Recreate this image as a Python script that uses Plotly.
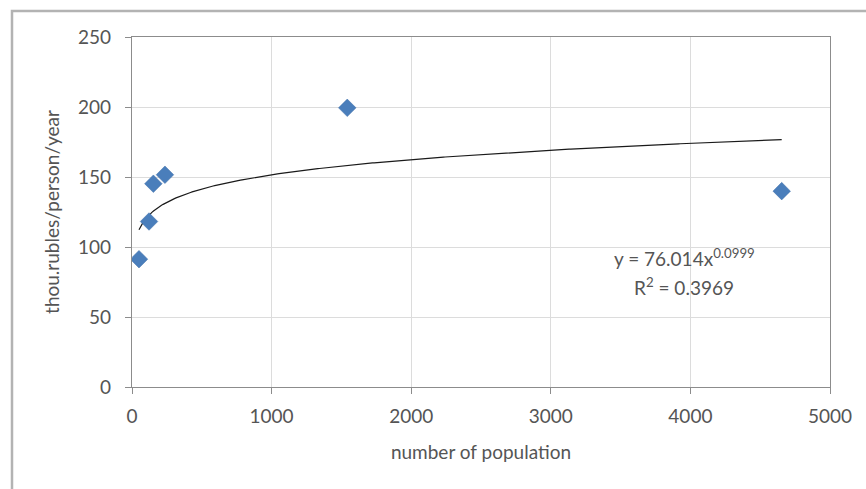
import numpy as np
import plotly.graph_objects as go

# Data
population = [50, 122, 153, 236, 1542, 4654]
income = [91.3, 118.2, 145.2, 151.6, 199.4, 139.9]

# Power trendline shown on chart: y = a * x^b
trend_a = 76.014
trend_b = 0.0999
r_squared = 0.3969

x_ticks = [0, 1000, 2000, 3000, 4000, 5000]
y_ticks = [0, 50, 100, 150, 200, 250]

FONT = "Lato"
TXT = "#555555"

tx = np.linspace(min(population), max(population), 400)
ty = trend_a * tx ** trend_b

fig = go.Figure()
fig.add_trace(go.Scatter(
    x=tx, y=ty, mode="lines",
    line=dict(color="#1a1a1a", width=1.2),
    showlegend=False, hoverinfo="skip"))
fig.add_trace(go.Scatter(
    x=population, y=income, mode="markers",
    marker=dict(symbol="diamond", size=13.5, color="#4a7ebb",
                line=dict(width=0.5, color="#3f6fa8")),
    showlegend=False, hoverinfo="skip"))

L, R, T, B = 132, 36, 37, 102
W, H = 866, 489
pw, ph = W - L - R, H - T - B

def px_to_paper_x(px):
    return (px - L) / pw

def px_to_paper_y(py):
    return (H - B - py) / ph

fig.add_shape(type="rect", xref="paper", yref="paper",
              x0=px_to_paper_x(12), x1=px_to_paper_x(900),
              y0=px_to_paper_y(520), y1=px_to_paper_y(11),
              line=dict(color="#b3b3b3", width=2.5), fillcolor="rgba(0,0,0,0)",
              layer="above")

fig.add_annotation(xref="paper", yref="paper",
                   x=px_to_paper_x(684), y=px_to_paper_y(257),
                   text=f"y = {trend_a}x<sup>{trend_b}</sup>",
                   showarrow=False, font=dict(family=FONT, size=19, color=TXT),
                   xanchor="center", yanchor="middle")
fig.add_annotation(xref="paper", yref="paper",
                   x=px_to_paper_x(684), y=px_to_paper_y(286),
                   text=f"R<sup>2</sup> = {r_squared}",
                   showarrow=False, font=dict(family=FONT, size=19, color=TXT),
                   xanchor="center", yanchor="middle")

axis_common = dict(
    showline=True, linecolor="#8c8c8c", linewidth=1.3, mirror=True,
    showgrid=True, gridcolor="#dcdcdc", gridwidth=1,
    ticks="outside", ticklen=6, tickcolor="#8c8c8c", tickwidth=1,
    zeroline=False,
    tickfont=dict(family=FONT, size=19, color=TXT),
)

fig.update_xaxes(range=[0, 5000], tickvals=x_ticks,
                 ticktext=[str(v) for v in x_ticks],
                 title=dict(text="number of population", standoff=19,
                            font=dict(family=FONT, size=19, color=TXT)),
                 ticklabelstandoff=6,
                 **axis_common)
fig.update_yaxes(range=[0, 250], tickvals=y_ticks,
                 ticktext=[str(v) for v in y_ticks],
                 title=dict(text="thou.rubles/person/year", standoff=13,
                            font=dict(family=FONT, size=19, color=TXT)),
                 ticklabelstandoff=10,
                 **axis_common)

fig.update_layout(
    width=W, height=H,
    margin=dict(l=L, r=R, t=T, b=B, autoexpand=False),
    paper_bgcolor="white", plot_bgcolor="white",
    font=dict(family=FONT, color=TXT),
)

fig.write_html("out.html")
